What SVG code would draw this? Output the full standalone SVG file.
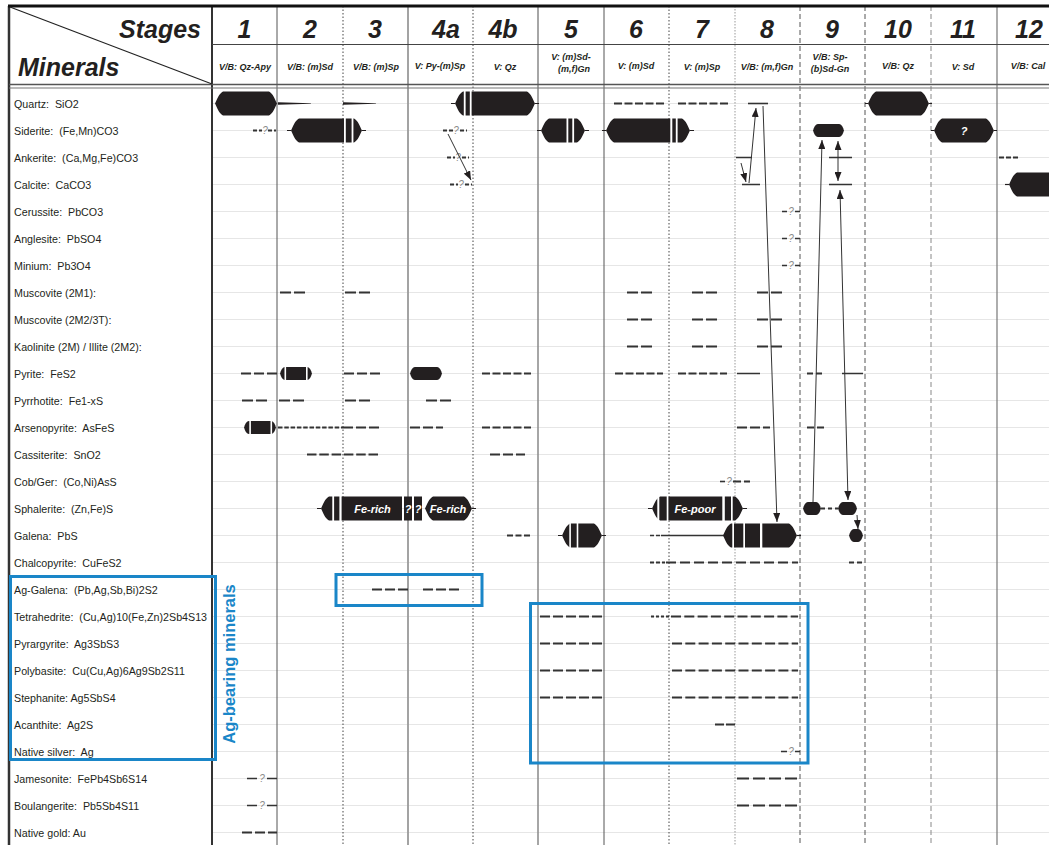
<svg xmlns="http://www.w3.org/2000/svg" width="1049" height="845" viewBox="0 0 1049 845">
<defs>
<style>
.lbl{font-family:"Liberation Sans",Arial,sans-serif;font-size:10.7px;fill:#231f20;white-space:pre}
.hd{font-family:"Liberation Sans",Arial,sans-serif;font-weight:bold;font-style:italic;fill:#231f20}
.num{font-size:25px;text-anchor:middle}
.sub{font-size:9px;text-anchor:middle}
.bar{fill:#231f20}
.st{fill:#fff}
.tl{stroke:#231f20;stroke-width:1.2;fill:none}
.dl{fill:none;stroke:#333;stroke-width:2}
.d2{stroke-dasharray:11 3}
.d3{stroke-dasharray:10 3}
.d5{stroke-dasharray:8 2.5}
.df{stroke-dasharray:4.5 1.8}
.sl{fill:none;stroke:#333;stroke-width:1.6}
.q{font-family:"Liberation Sans",Arial,sans-serif;font-style:italic;font-size:10px;fill:#8a8a8a;text-anchor:middle}
.wt{font-family:"Liberation Sans",Arial,sans-serif;font-weight:bold;font-style:italic;font-size:11px;fill:#fff;text-anchor:middle}
.grid{stroke:#e6e6e6;stroke-width:1}
.arr{fill:none;stroke:#333;stroke-width:1;marker-end:url(#ah)}
.arr2{fill:none;stroke:#333;stroke-width:1;marker-end:url(#ah);marker-start:url(#ah)}
.blue{fill:none;stroke:#1a86c8;stroke-width:3}
</style>
<marker id="ah" markerUnits="userSpaceOnUse" viewBox="0 0 9 7" markerWidth="9" markerHeight="7" refX="9" refY="3.5" orient="auto-start-reverse"><path d="M0,0 L9,3.5 L0,7Z" fill="#231f20"/></marker>
</defs>
<rect width="1049" height="845" fill="#fff"/>

<g id="grid">
<g class="grid">
<path d="M212,103.5H1049M212,130.5H1049M212,157.5H1049M212,184.5H1049M212,211.5H1049M212,238.5H1049M212,265.5H1049M212,292.5H1049M212,319.5H1049M212,346.5H1049M212,373.5H1049M212,400.5H1049M212,427.5H1049M212,454.5H1049M212,481.5H1049M212,508.5H1049M212,535.5H1049M212,562.5H1049M212,589.5H1049M212,616.5H1049M212,643.5H1049M212,670.5H1049M212,697.5H1049M212,724.5H1049M212,751.5H1049M212,778.5H1049M212,805.5H1049M212,832.5H1049"/>
</g>
<line x1="277" y1="6" x2="277" y2="845" stroke="#555" stroke-width="1"/>
<line x1="343" y1="6" x2="343" y2="845" stroke="#444" stroke-width="1" stroke-dasharray="1.5 2"/>
<line x1="408" y1="6" x2="408" y2="845" stroke="#999" stroke-width="1.8"/>
<line x1="473" y1="6" x2="473" y2="845" stroke="#444" stroke-width="1" stroke-dasharray="1.5 2"/>
<line x1="538" y1="6" x2="538" y2="845" stroke="#888" stroke-width="1.5"/>
<line x1="604" y1="6" x2="604" y2="845" stroke="#555" stroke-width="1"/>
<line x1="669" y1="6" x2="669" y2="845" stroke="#444" stroke-width="1" stroke-dasharray="1.5 2"/>
<line x1="735" y1="6" x2="735" y2="845" stroke="#999" stroke-width="1" stroke-dasharray="1.5 1.5"/>
<line x1="800" y1="6" x2="800" y2="845" stroke="#555" stroke-width="1" stroke-dasharray="5 3"/>
<line x1="865" y1="6" x2="865" y2="845" stroke="#555" stroke-width="1" stroke-dasharray="5 3"/>
<line x1="931" y1="6" x2="931" y2="845" stroke="#888" stroke-width="1" stroke-dasharray="5 3"/>
<line x1="997" y1="6" x2="997" y2="845" stroke="#777" stroke-width="1.2"/>
<line x1="212" y1="6" x2="212" y2="845" stroke="#333" stroke-width="2"/>
<line x1="9" y1="6" x2="9" y2="845" stroke="#333" stroke-width="2.5"/>
<line x1="8" y1="6" x2="1049" y2="6" stroke="#111" stroke-width="3"/>
<line x1="212" y1="44.5" x2="1049" y2="44.5" stroke="#444" stroke-width="1"/>
<line x1="9" y1="84.5" x2="1049" y2="84.5" stroke="#555" stroke-width="1.5"/>
<line x1="9" y1="88" x2="1049" y2="88" stroke="#777" stroke-width="1.2"/>
<line x1="10" y1="7" x2="212" y2="84" stroke="#222" stroke-width="1.2"/>
</g>

<g id="header" class="hd">
<text x="201" y="38" font-size="25" text-anchor="end">Stages</text>
<text x="18" y="76" font-size="25">Minerals</text>
<text class="num" x="244.5" y="38">1</text>
<text class="num" x="310" y="38">2</text>
<text class="num" x="375" y="38">3</text>
<text class="num" x="446" y="38">4a</text>
<text class="num" x="503" y="38">4b</text>
<text class="num" x="571" y="38">5</text>
<text class="num" x="636" y="38">6</text>
<text class="num" x="702" y="38">7</text>
<text class="num" x="767" y="38">8</text>
<text class="num" x="832" y="38">9</text>
<text class="num" x="898" y="38">10</text>
<text class="num" x="963" y="38">11</text>
<text class="num" x="1029" y="38">12</text>
<text class="sub" x="245" y="70">V/B: Qz-Apy</text>
<text class="sub" x="310" y="70">V/B: (m)Sd</text>
<text class="sub" x="376" y="70">V/B: (m)Sp</text>
<text class="sub" x="440" y="69">V: Py-(m)Sp</text>
<text class="sub" x="505" y="70">V: Qz</text>
<text class="sub" x="571" y="60">V: (m)Sd-</text>
<text class="sub" x="574" y="72">(m,f)Gn</text>
<text class="sub" x="636" y="69">V: (m)Sd</text>
<text class="sub" x="702" y="70">V: (m)Sp</text>
<text class="sub" x="767" y="70">V/B: (m,f)Gn</text>
<text class="sub" x="830" y="60">V/B: Sp-</text>
<text class="sub" x="830" y="72">(b)Sd-Gn</text>
<text class="sub" x="898" y="69">V/B: Qz</text>
<text class="sub" x="963" y="70">V: Sd</text>
<text class="sub" x="1028" y="69">V/B: Cal</text>
</g>

<g id="row-quartz" transform="translate(0,103.5)">
<text class="lbl" x="14" y="4">Quartz:  SiO2</text>
<path class="bar" d="M215,0 C217,-4 219,-10 223,-12 H269 C273,-10 275,-4 277,0 C275,4 273,10 269,12 H223 C219,10 217,4 215,0Z"/>
<polygon class="bar" points="278,-1.2 311,-0.3 311,0.3 278,1.2"/>
<polygon class="bar" points="343,-1.2 376,-0.3 376,0.3 343,1.2"/>
<path class="tl" d="M451,0H455M535,0H539"/>
<path class="bar" d="M455,0 C457,-4 459,-10 463,-12 H527 C531,-10 533,-4 535,0 C533,4 531,10 527,12 H463 C459,10 457,4 455,0Z"/>
<rect class="st" x="463.8" y="-13" width="1.8" height="26"/><rect class="st" x="469.8" y="-13" width="1.8" height="26"/>
<path class="dl d5" d="M614,0H664M678,0H729"/>
<path class="sl" d="M748,0H768"/>
<path class="tl" d="M865,0H868M929,0H932"/>
<path class="bar" d="M868,0 C870,-4 872,-10 876,-12 H921 C925,-10 927,-4 929,0 C927,4 925,10 921,12 H876 C872,10 870,4 868,0Z"/>
</g>

<g id="row-siderite" transform="translate(0,130.5)">
<text class="lbl" x="14" y="4">Siderite:  (Fe,Mn)CO3</text>
<path class="dl" stroke-dasharray="4 2" d="M253,0H262M268,0H276"/><text class="q" x="265" y="3.5">?</text>
<path class="tl" d="M287,0H291M362,0H366"/>
<path class="bar" d="M291,0 C293,-4 295,-10 299,-12 H354 C358,-10 360,-4 362,0 C360,4 358,10 354,12 H299 C295,10 293,4 291,0Z"/>
<rect class="st" x="344" y="-13" width="1.8" height="26"/><rect class="st" x="351.6" y="-13" width="1.8" height="26"/>
<path class="dl" stroke-dasharray="4 2" d="M443,0H453M460,0H467"/><text class="q" x="456" y="3.5">?</text>
<path class="tl" d="M537,0H541M585,0H589"/>
<path class="bar" d="M541,0 C543,-4 545,-10 549,-12 H577 C581,-10 583,-4 585,0 C583,4 581,10 577,12 H549 C545,10 543,4 541,0Z"/>
<rect class="st" x="566.5" y="-13" width="1.8" height="26"/><rect class="st" x="572.3" y="-13" width="1.8" height="26"/>
<path class="tl" d="M602,0H606M690,0H694"/>
<path class="bar" d="M606,0 C608,-4 610,-10 614,-12 H682 C686,-10 688,-4 690,0 C688,4 686,10 682,12 H614 C610,10 608,4 606,0Z"/>
<rect class="st" x="670.3" y="-13" width="2" height="26"/><rect class="st" x="675.8" y="-13" width="1.8" height="26"/>
<path class="bar" d="M813,0 C814,-3 815,-6 818,-6.5 H839 C842,-6 843,-3 844,0 C843,3 842,6 839,6.5 H818 C815,6 814,3 813,0Z"/>
<path class="tl" d="M931,0H934M994,0H997"/>
<path class="bar" d="M934,0 C936,-4 938,-10 942,-12 H986 C990,-10 992,-4 994,0 C992,4 990,10 986,12 H942 C938,10 936,4 934,0Z"/>
<text class="wt" x="964" y="4">?</text>
</g>

<g id="row-ankerite" transform="translate(0,157.5)">
<text class="lbl" x="14" y="4">Ankerite:  (Ca,Mg,Fe)CO3</text>
<path class="dl" stroke-dasharray="4 2" d="M447,0H455M462,0H469"/><text class="q" x="458" y="3.5">?</text>
<path class="sl" d="M736,0H752M829,0H852"/>
<path class="dl" stroke-dasharray="5 2" d="M999,0H1020"/>
</g>

<g id="row-calcite" transform="translate(0,184.5)">
<text class="lbl" x="14" y="4">Calcite:  CaCO3</text>
<path class="dl" stroke-dasharray="4 2" d="M450,0H458M465,0H472"/><text class="q" x="461" y="3.5">?</text>
<path class="sl" d="M742,0H760M829,0H852"/>
<path class="tl" d="M1005,0H1009"/>
<path class="bar" d="M1009,0 C1011,-4 1013,-10 1017,-12 H1062 C1066,-10 1068,-4 1070,0 C1068,4 1066,10 1062,12 H1017 C1013,10 1011,4 1009,0Z"/>
</g>

<g id="row-cerussite" transform="translate(0,211.5)">
<text class="lbl" x="14" y="4">Cerussite:  PbCO3</text>
<path class="sl" d="M782,0H787M795,0H800"/><text class="q" x="791" y="3.5">?</text>
</g>
<g id="row-anglesite" transform="translate(0,238.5)">
<text class="lbl" x="14" y="4">Anglesite:  PbSO4</text>
<path class="sl" d="M782,0H787M795,0H800"/><text class="q" x="791" y="3.5">?</text>
</g>
<g id="row-minium" transform="translate(0,265.5)">
<text class="lbl" x="14" y="4">Minium:  Pb3O4</text>
<path class="sl" d="M782,0H787M795,0H800"/><text class="q" x="791" y="3.5">?</text>
</g>

<g id="row-muscovite-2m1" transform="translate(0,292.5)">
<text class="lbl" x="14" y="4">Muscovite (2M1):</text>
<path class="dl d2" d="M280,0H305M345,0H372M627,0H653M692,0H718M757,0H784"/>
</g>
<g id="row-muscovite-2m2" transform="translate(0,319.5)">
<text class="lbl" x="14" y="4">Muscovite (2M2/3T):</text>
<path class="dl d2" d="M627,0H653M692,0H718M757,0H784"/>
</g>
<g id="row-kaolinite" transform="translate(0,346.5)">
<text class="lbl" x="14" y="4">Kaolinite (2M) / Illite (2M2):</text>
<path class="dl d2" d="M627,0H653M692,0H718M757,0H784"/>
</g>

<g id="row-pyrite" transform="translate(0,373.5)">
<text class="lbl" x="14" y="4">Pyrite:  FeS2</text>
<path class="dl d3" d="M241,0H277M344,0H380"/>
<path class="bar" d="M280,0 C281,-3 282,-6 285,-6.5 H307 C310,-6 311,-3 312,0 C311,3 310,6 307,6.5 H285 C282,6 281,3 280,0Z"/>
<rect class="st" x="284.5" y="-7.5" width="1.6" height="15"/><rect class="st" x="306" y="-7.5" width="1.6" height="15"/>
<path class="bar" d="M410,0 C411,-3 412,-6 415,-6.5 H437 C440,-6 441,-3 442,0 C441,3 440,6 437,6.5 H415 C412,6 411,3 410,0Z"/>
<path class="dl d5" d="M482,0H531M615,0H663M678,0H727"/>
<path class="sl" d="M737,0H760M842,0H863"/>
<path class="dl" stroke-dasharray="6 3" d="M807,0H823"/>
</g>

<g id="row-pyrrhotite" transform="translate(0,400.5)">
<text class="lbl" x="14" y="4">Pyrrhotite:  Fe1-xS</text>
<path class="dl d2" d="M242,0H268M279,0H305M345,0H372M426,0H453"/>
</g>

<g id="row-arsenopyrite" transform="translate(0,427.5)">
<text class="lbl" x="14" y="4">Arsenopyrite:  AsFeS</text>
<path class="bar" d="M244,0 C245,-3 246,-6 249,-6.5 H271 C274,-6 275,-3 276,0 C275,3 274,6 271,6.5 H249 C246,6 245,3 244,0Z"/>
<rect class="st" x="249.3" y="-7.5" width="1.6" height="15"/><rect class="st" x="270.5" y="-7.5" width="1.6" height="15"/>
<path class="dl df" d="M278,0H343"/>
<path class="dl d3" d="M343,0H380M410,0H443M737,0H770"/>
<path class="dl d5" d="M482,0H531"/>
<path class="dl" stroke-dasharray="7 3" d="M807,0H825"/>
</g>

<g id="row-cassiterite" transform="translate(0,454.5)">
<text class="lbl" x="14" y="4">Cassiterite:  SnO2</text>
<path class="dl" stroke-dasharray="9.5 2.8" d="M307,0H378"/>
<path class="dl d3" d="M490,0H525"/>
</g>

<g id="row-cobger" transform="translate(0,481.5)">
<text class="lbl" x="14" y="4">Cob/Ger:  (Co,Ni)AsS</text>
<path class="sl" d="M720,0H725"/><path class="dl" stroke-dasharray="8 3" d="M733,0H750"/><text class="q" x="729" y="3.5">?</text>
</g>

<g id="row-sphalerite" transform="translate(0,508.5)">
<text class="lbl" x="14" y="4">Sphalerite:  (Zn,Fe)S</text>
<path class="tl" d="M317,0H321M472,0H476"/>
<path class="bar" d="M321,0 C323,-4 325,-10 329,-12 H402 V12 H329 C325,10 323,4 321,0Z"/>
<rect class="st" x="332.3" y="-13" width="1.8" height="26"/><rect class="st" x="339.4" y="-13" width="2.2" height="26"/>
<text class="wt" x="372.5" y="4">Fe-rich</text>
<rect class="bar" x="404" y="-12" width="8" height="24"/>
<rect class="bar" x="414" y="-12" width="8" height="24"/>
<text class="wt" x="408" y="4">?</text><text class="wt" x="418" y="4">?</text>
<path class="bar" d="M425,0 C427,-4 429,-10 433,-12 H464 C468,-10 470,-4 472,0 C470,4 468,10 464,12 H433 C429,10 427,4 425,0Z"/>
<text class="wt" x="448" y="4">Fe-rich</text>
<path class="tl" d="M648,0H652M743,0H747"/>
<path class="bar" d="M652,0 C654,-4 656,-10 660,-12 H735 C739,-10 741,-4 743,0 C741,4 739,10 735,12 H660 C656,10 654,4 652,0Z"/>
<rect class="st" x="657.3" y="-13" width="2" height="26"/><rect class="st" x="666.7" y="-13" width="1.7" height="26"/><rect class="st" x="722.3" y="-13" width="2.5" height="26"/><rect class="st" x="731" y="-13" width="1.7" height="26"/>
<text class="wt" x="695" y="4">Fe-poor</text>
<path class="bar" d="M803,0 C804,-3 805,-6 808,-6.5 H816 C819,-6 820,-3 821,0 C820,3 819,6 816,6.5 H808 C805,6 804,3 803,0Z"/>
<path class="dl" stroke-dasharray="4 3" d="M821,0H838"/>
<path class="bar" d="M838,0 C839,-3 840,-6 843,-6.5 H852 C855,-6 856,-3 857,0 C856,3 855,6 852,6.5 H843 C840,6 839,3 838,0Z"/>
</g>

<g id="row-galena" transform="translate(0,535.5)">
<text class="lbl" x="14" y="4">Galena:  PbS</text>
<path class="dl" stroke-dasharray="6 2.5" d="M507,0H530"/>
<path class="tl" d="M558,0H562M602,0H606"/>
<path class="bar" d="M562,0 C564,-4 566,-10 570,-12 H594 C598,-10 600,-4 602,0 C600,4 598,10 594,12 H570 C566,10 564,4 562,0Z"/>
<rect class="st" x="569.3" y="-13" width="1.6" height="26"/><rect class="st" x="576.7" y="-13" width="1.6" height="26"/>
<path class="sl" stroke-dasharray="4 2" d="M650,0H661"/>
<path class="sl" d="M661,0H724"/>
<path class="tl" d="M797,0H801"/>
<path class="bar" d="M723,0 C725,-4 727,-10 731,-12 H789 C793,-10 795,-4 797,0 C795,4 793,10 789,12 H731 C727,10 725,4 723,0Z"/>
<rect class="st" x="732.3" y="-13" width="1.7" height="26"/><rect class="st" x="743.3" y="-13" width="1.7" height="26"/><rect class="st" x="760" y="-13" width="2.3" height="26"/>
<path class="bar" d="M849,0 C850,-3 851,-6 854,-6.5 H858 C861,-6 862,-3 863,0 C862,3 861,6 858,6.5 H854 C851,6 850,3 849,0Z"/>
</g>

<g id="row-chalcopyrite" transform="translate(0,562.5)">
<text class="lbl" x="14" y="4">Chalcopyrite:  CuFeS2</text>
<path class="dl" stroke-dasharray="4 2" d="M650,0H665"/>
<path class="dl" stroke-dasharray="10 4" d="M666,0H798"/>
<path class="dl" stroke-dasharray="5 3" d="M849,0H864"/>
</g>

<g id="row-ag-galena" transform="translate(0,589.5)">
<text class="lbl" x="14" y="4">Ag-Galena:  (Pb,Ag,Sb,Bi)2S2</text>
<path class="dl d3" d="M372,0H408M423,0H460"/>
</g>
<g id="row-tetrahedrite" transform="translate(0,616.5)">
<text class="lbl" x="14" y="4">Tetrahedrite:  (Cu,Ag)10(Fe,Zn)2Sb4S13</text>
<path class="dl d3" d="M540,0H602"/>
<path class="dl" stroke-dasharray="3 2" d="M651,0H670"/>
<path class="dl" stroke-dasharray="10 3.3" d="M671,0H798"/>
</g>
<g id="row-pyrargyrite" transform="translate(0,643.5)">
<text class="lbl" x="14" y="4">Pyrargyrite:  Ag3SbS3</text>
<path class="dl d3" d="M540,0H602"/>
<path class="dl" stroke-dasharray="10 3.3" d="M672,0H798"/>
</g>
<g id="row-polybasite" transform="translate(0,670.5)">
<text class="lbl" x="14" y="4">Polybasite:  Cu(Cu,Ag)6Ag9Sb2S11</text>
<path class="dl d3" d="M540,0H602"/>
<path class="dl" stroke-dasharray="10 3.3" d="M672,0H798"/>
</g>
<g id="row-stephanite" transform="translate(0,697.5)">
<text class="lbl" x="14" y="4">Stephanite: Ag5SbS4</text>
<path class="dl d3" d="M540,0H602"/>
<path class="dl" stroke-dasharray="10 3.3" d="M672,0H798"/>
</g>
<g id="row-acanthite" transform="translate(0,724.5)">
<text class="lbl" x="14" y="4">Acanthite:  Ag2S</text>
<path class="dl" stroke-dasharray="9 2" d="M715,0H735"/>
</g>
<g id="row-native-silver" transform="translate(0,751.5)">
<text class="lbl" x="14" y="4">Native silver:  Ag</text>
<path class="sl" d="M781,0H787M795,0H800"/><text class="q" x="791" y="3.5">?</text>
</g>
<g id="row-jamesonite" transform="translate(0,778.5)">
<text class="lbl" x="14" y="4">Jamesonite:  FePb4Sb6S14</text>
<path class="sl" d="M247,0H257M267,0H277"/><text class="q" x="262" y="3.5">?</text>
<path class="dl" stroke-dasharray="12 4" d="M737,0H798"/>
</g>
<g id="row-boulangerite" transform="translate(0,805.5)">
<text class="lbl" x="14" y="4">Boulangerite:  Pb5Sb4S11</text>
<path class="sl" d="M247,0H257M267,0H277"/><text class="q" x="262" y="3.5">?</text>
<path class="dl" stroke-dasharray="12 4" d="M737,0H798"/>
</g>
<g id="row-native-gold" transform="translate(0,832.5)">
<text class="lbl" x="14" y="4">Native gold: Au</text>
<path class="dl d3" d="M242,0H277"/>
</g>

<g id="ag-boxes">
<rect class="blue" x="336" y="574.5" width="146" height="31"/>
<rect class="blue" x="530.5" y="603.5" width="277.5" height="159.5"/>
<rect class="blue" x="10.5" y="576.5" width="205" height="183"/>
<text transform="translate(235,664) rotate(-90)" text-anchor="middle" font-family="Liberation Sans, Arial, sans-serif" font-weight="bold" font-size="16.5" fill="#1a86c8">Ag-bearing minerals</text>
</g>

<g id="connectors">
<path class="arr" d="M448,134 L471,180"/>
<path class="arr" d="M741,163 L746,182"/>
<path class="arr" d="M749,183 L756,108"/>
<path class="arr" d="M763,106 L777,522"/>
<path class="arr" d="M813,502 L822,140"/>
<path class="arr2" d="M838,141 L838,181"/>
<path class="arr2" d="M840,190 L848,500"/>
<path class="arr" d="M857,515 L858,529"/>
</g>
</svg>
